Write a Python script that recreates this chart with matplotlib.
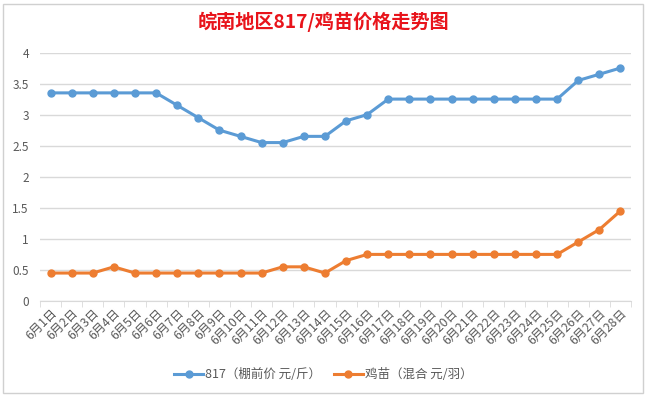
import matplotlib.pyplot as plt
from matplotlib.patches import Rectangle

plt.rcParams['font.family'] = ['Noto Sans CJK SC', 'DejaVu Sans']

days = [f"6月{d}日" for d in range(1, 29)]
price_817 = [3.35, 3.35, 3.35, 3.35, 3.35, 3.35, 3.15, 2.95, 2.75, 2.65,
             2.55, 2.55, 2.65, 2.65, 2.9, 3.0, 3.25, 3.25, 3.25, 3.25,
             3.25, 3.25, 3.25, 3.25, 3.25, 3.55, 3.65, 3.75]
price_chick = [0.45, 0.45, 0.45, 0.55, 0.45, 0.45, 0.45, 0.45, 0.45, 0.45,
               0.45, 0.55, 0.55, 0.45, 0.65, 0.75, 0.75, 0.75, 0.75, 0.75,
               0.75, 0.75, 0.75, 0.75, 0.75, 0.95, 1.15, 1.45]
yticks = [0, 0.5, 1, 1.5, 2, 2.5, 3, 3.5, 4]
ytick_labels = ["0", "0.5", "1", "1.5", "2", "2.5", "3", "3.5", "4"]

fig = plt.figure(figsize=(6.47, 3.97), dpi=100)
fig.patches.append(Rectangle((3 / 647, 4 / 397), 640 / 647, 389 / 397,
                             transform=fig.transFigure, fill=False,
                             edgecolor='#d0d0d0', linewidth=1))
ax = fig.add_axes([40 / 647, 1 - 301 / 397, 591 / 647, 248.5 / 397])

x = list(range(len(days)))
ax.plot(x, price_817, color='#5b9bd5', linewidth=2.2, marker='o',
        markersize=5, label="817（棚前价 元/斤）")
ax.plot(x, price_chick, color='#ed7d31', linewidth=2.2, marker='o',
        markersize=5, label="鸡苗（混合 元/羽）")

ax.set_xlim(-0.5, len(days) - 0.5)
ax.set_ylim(0, 4)
ax.set_yticks(yticks)
ax.set_yticklabels(ytick_labels, color='#595959', fontsize=8.5)
ax.set_xticks(x)
ax.set_xticklabels(days, rotation=45, ha='right', rotation_mode='anchor',
                   color='#595959', fontsize=8.8)
ax.set_xticks([i - 0.5 for i in range(len(days) + 1)], minor=True)
ax.tick_params(axis='x', which='major', length=0, pad=4)
ax.tick_params(axis='x', which='minor', length=4, color='#d9d9d9')
ax.tick_params(axis='y', length=0, pad=8)
ax.grid(axis='y', color='#d9d9d9', linewidth=1)
ax.set_axisbelow(True)
for side in ['top', 'right', 'left']:
    ax.spines[side].set_visible(False)
ax.spines['bottom'].set_color('#d9d9d9')

fig.text(0.5, 1 - 22 / 397, "皖南地区817/鸡苗价格走势图", color='#e8141b',
         fontsize=13.8, fontweight='bold', ha='center', va='center')

fig.legend(loc='center', bbox_to_anchor=(0.5, 1 - 375 / 397), ncol=2,
           frameon=False, fontsize=9, handlelength=2.3, handletextpad=0.2,
           columnspacing=1.0, labelcolor='#595959')

fig.savefig("out.png", dpi=100)
